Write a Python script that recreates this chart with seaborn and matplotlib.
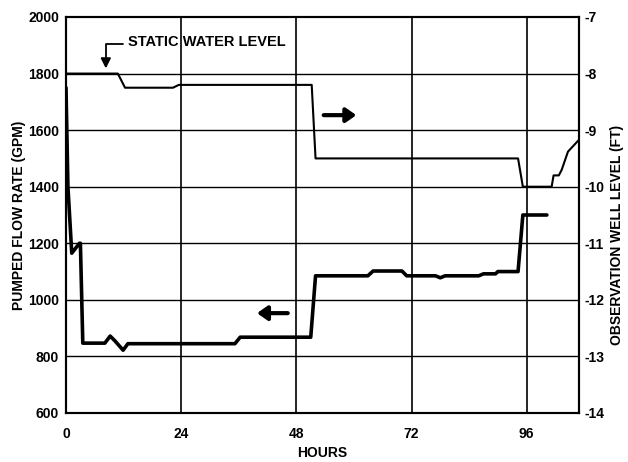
import matplotlib
matplotlib.use("Agg")
import matplotlib.pyplot as plt
import seaborn as sns
import pandas as pd

# Pumped flow rate (GPM), left axis
flow_hours = [0, 0.4, 1.2, 2.8, 3.0, 3.5, 8.1, 9.2, 10.2, 11.9, 12.9, 35.2, 36.3,
              51.0, 52.0, 62.9, 64.0, 70.0, 71.0, 77.0, 78.0, 79.0, 86.0, 87.0,
              89.5, 90.0, 94.2, 95.2, 100.2]
flow_gpm = [1750, 1400, 1165, 1200, 1200, 847, 847, 872, 855, 822, 845, 845, 868,
            868, 1085, 1085, 1102, 1102, 1085, 1085, 1078, 1085, 1085, 1092,
            1092, 1100, 1100, 1300, 1300]

# Observation well level (FT), right axis
well_hours = [0, 10.8, 12.3, 22.3, 23.5, 51.2, 52.0, 94.2, 95.2, 101.2, 101.6,
              102.7, 103.3, 104.6, 106.9]
well_ft = [-8.0, -8.0, -8.25, -8.25, -8.2, -8.2, -9.5, -9.5, -10.0, -10.0, -9.8,
           -9.8, -9.7, -9.38, -9.17]

x_ticks = [0, 24, 48, 72, 96]
left_ticks = [600, 800, 1000, 1200, 1400, 1600, 1800, 2000]
right_ticks = [-7, -8, -9, -10, -11, -12, -13, -14]

sns.set_theme(style="white")
plt.rcParams['font.family'] = ['Liberation Sans', 'DejaVu Sans']
plt.rcParams['font.weight'] = 'bold'
for k in ['text.color', 'axes.labelcolor', 'xtick.color', 'ytick.color']:
    plt.rcParams[k] = 'black'

fs = 10

fig = plt.figure(figsize=(6.28, 4.62), dpi=100)
ax = fig.add_axes([66/628, 1-413/462, (579-66)/628, (413-17)/462])

flow_df = pd.DataFrame({"hours": flow_hours, "gpm": flow_gpm})
well_df = pd.DataFrame({"hours": well_hours, "ft": well_ft})

# grid
for v in left_ticks[1:-1]:
    ax.axhline(v, color="black", lw=1.0, zorder=1)
for v in x_ticks[1:]:
    ax.axvline(v, color="black", lw=1.2, zorder=1)

sns.lineplot(data=flow_df, x="hours", y="gpm", ax=ax, color="black", lw=2.6,
             sort=False, estimator=None, zorder=3)
ax.set_xlim(0, 106.9)
ax.set_ylim(600, 2000)
ax.set_xticks(x_ticks)
ax.set_yticks(left_ticks)
ax.set_xlabel("HOURS", fontsize=fs, fontweight="bold")
ax.xaxis.set_label_coords(0.5, -0.083)
ax.set_ylabel("PUMPED FLOW RATE (GPM)", fontsize=fs, fontweight="bold")
ax.yaxis.set_label_coords(-0.078, 0.5)
ax.tick_params(axis="x", length=0, labelsize=fs, pad=10)
ax.tick_params(axis="y", length=0, labelsize=fs, pad=5)
for lab in ax.get_xticklabels() + ax.get_yticklabels():
    lab.set_fontweight("bold")
for s in ax.spines.values():
    s.set_color("black")
    s.set_linewidth(1.5)

ax2 = ax.twinx()
sns.lineplot(data=well_df, x="hours", y="ft", ax=ax2, color="black", lw=1.5,
             sort=False, estimator=None, zorder=3)
ax2.set_ylim(-14, -7)
ax2.set_yticks(right_ticks)
ax2.set_yticklabels([f"{t}" for t in right_ticks])
ax2.set_ylabel("OBSERVATION WELL LEVEL (FT)", fontsize=fs, fontweight="bold",
               rotation=90)
ax2.yaxis.set_label_coords(1.06, 0.45)
ax2.tick_params(axis="y", length=0, labelsize=fs, pad=4)
for lab in ax2.get_yticklabels():
    lab.set_fontweight("bold")
ax2.set_xlim(0, 106.9)
for s in ax2.spines.values():
    s.set_linewidth(1.5)
    s.set_color("black")

# direction arrows
ax.annotate("", xy=(60.5, 1653), xytext=(53.7, 1653),
            arrowprops=dict(arrowstyle="-|>,head_length=0.5,head_width=0.35",
                            lw=3, color="black", shrinkA=0, shrinkB=0))
ax.annotate("", xy=(39.8, 953), xytext=(46.2, 953),
            arrowprops=dict(arrowstyle="-|>,head_length=0.5,head_width=0.35",
                            lw=3, color="black", shrinkA=0, shrinkB=0))

# static water level label
ax.text(12.9, 1910, "STATIC WATER LEVEL", fontsize=10.5, fontweight="bold",
        ha="left", va="center")
ax.annotate("", xy=(8.3, 1818), xytext=(11.8, 1905),
            arrowprops=dict(arrowstyle="-|>,head_length=0.5,head_width=0.25",
                            lw=1.3, color="black", shrinkA=0, shrinkB=0,
                            connectionstyle="angle,angleA=180,angleB=90,rad=0"))

fig.savefig("out.png", dpi=100, facecolor="white")
